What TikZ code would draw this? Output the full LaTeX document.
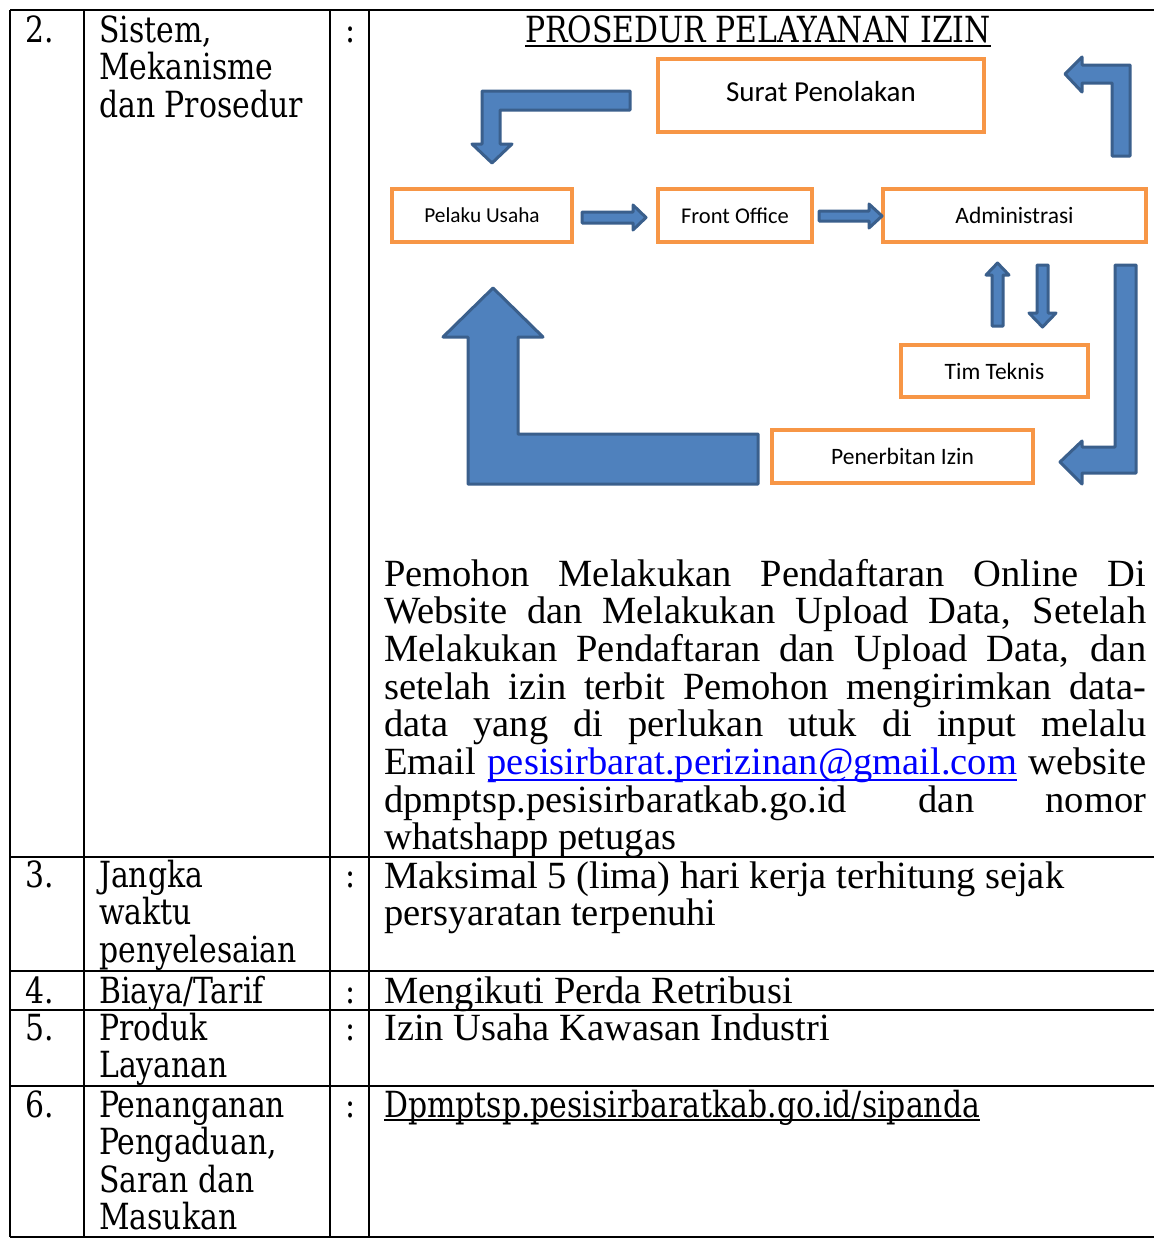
\documentclass[tikz,border=0pt]{standalone}
\usepackage{fontspec}
\newfontfamily\bkf[FakeStretch=0.83]{DejaVu Serif}
\newfontfamily\tmf{Liberation Serif}
\newfontfamily\cbf{Carlito}
\definecolor{boxor}{HTML}{F79646}
\definecolor{arrfill}{HTML}{4F81BD}
\definecolor{arrline}{HTML}{3A5F8C}
\definecolor{linkblue}{HTML}{0000FF}
\newcommand\ulx[2][4pt]{\setbox0\hbox{#2}\rlap{\rule[-#1]{\wd0}{1.6pt}}\box0}
\tikzset{
  tbl/.style={line width=2.2pt, black},
  bk/.style={anchor=base west, inner sep=0pt, font=\bkf\fontsize{36}{37.5}\selectfont},
  tm/.style={anchor=base west, inner sep=0pt, font=\tmf\fontsize{38.5}{37.7}\selectfont},
  obox/.style={draw=boxor, line width=4pt, inner sep=0pt, fill=white,
    font=\cbf\fontsize{23.5}{27}\selectfont},
  blk/.style={fill=arrfill, draw=arrline, line width=3pt, line join=round}
}
\begin{document}
\begin{tikzpicture}[x=1pt,y=-1pt]
\fill[white] (0,0) rectangle (1154,1240);
\useasboundingbox (0,0) rectangle (1154,1240);
\lineskiplimit=-20pt
% table grid
\draw[tbl] (10,10) -- (1154,10);
\draw[tbl] (10,857) -- (1154,857);
\draw[tbl] (10,971) -- (1154,971);
\draw[tbl] (10,1010) -- (1154,1010);
\draw[tbl] (10,1086) -- (1154,1086);
\draw[tbl] (10,1237) -- (1154,1237);
\draw[tbl] (10,10) -- (10,1237);
\draw[tbl] (84,10) -- (84,1237);
\draw[tbl] (330,10) -- (330,1237);
\draw[tbl] (369,10) -- (369,1237);

% row 2
\node[bk] (n2) at (25,42) {2.};
\node[bk] (l2) at (99,42) {\parbox[t]{230pt}{Sistem,\\Mekanisme\\dan Prosedur}};
\node[bk] (c2) at (345,42) {:};
\node[bk, anchor=base] (title) at (758,42) {\ulx[5pt]{PROSEDUR PELAYANAN IZIN}};

% diagram boxes
\node[obox, minimum width=326pt, minimum height=73pt] (sp) at (821,95.5) {\fontsize{29}{32}\selectfont\raisebox{8pt}{Surat Penolakan}};
\node[obox, minimum width=180pt, minimum height=53pt, font=\cbf\fontsize{21.3}{24}\selectfont] (pu) at (482,215.5) {Pelaku Usaha};
\node[obox, minimum width=154pt, minimum height=53pt, font=\cbf\fontsize{22.5}{26}\selectfont] (fo) at (735,215.5) {Front Office};
\node[obox, minimum width=263pt, minimum height=53pt] (ad) at (1014.5,215.5) {Administrasi};
\node[obox, minimum width=187pt, minimum height=52pt] (tt) at (994.5,371) {Tim Teknis};
\node[obox, minimum width=261pt, minimum height=53pt] (pi) at (902.5,456.5) {Penerbitan Izin};

% block arrows
\draw[blk] (630,91) -- (630,110) -- (500,110) -- (500,144) -- (512,144) -- (492,163)
  -- (472,144) -- (482,144) -- (482,91) -- cycle;
\draw[blk] (1112,156) -- (1112,83) -- (1082,83) -- (1082,92) -- (1065,74) -- (1082,57)
  -- (1082,65) -- (1130,65) -- (1130,156) -- cycle;
\draw[blk] (582,212) -- (633,212) -- (633,205) -- (646,217.5) -- (633,230) -- (633,223)
  -- (582,223) -- cycle;
\draw[blk] (819,211) -- (869,211) -- (869,204) -- (882,216) -- (869,228) -- (869,221)
  -- (819,221) -- cycle;
\draw[blk] (992,326) -- (992,275) -- (986,275) -- (997.5,263) -- (1009,275) -- (1003,275)
  -- (1003,326) -- cycle;
\draw[blk] (1037,265) -- (1048,265) -- (1048,313) -- (1056,313) -- (1042.5,327) -- (1029,313)
  -- (1037,313) -- cycle;
\draw[blk] (1115,265) -- (1136,265) -- (1136,473) -- (1082,473) -- (1082,484) -- (1060,462)
  -- (1082,441) -- (1082,447) -- (1115,447) -- cycle;
\draw[blk] (758,434) -- (758,484) -- (468,484) -- (468,337) -- (443,337) -- (493,288)
  -- (543,337) -- (518,337) -- (518,434) -- cycle;

% paragraph
\node[tm] (para) at (384,586) {\parbox[t]{762pt}{%
\noindent\makebox[\linewidth][s]{Pemohon Melakukan Pendaftaran Online Di}\par
\noindent\makebox[\linewidth][s]{Website dan Melakukan Upload Data, Setelah}\par
\noindent\makebox[\linewidth][s]{Melakukan Pendaftaran dan Upload Data, dan}\par
\noindent\makebox[\linewidth][s]{setelah izin terbit Pemohon mengirimkan data-}\par
\noindent\makebox[\linewidth][s]{data yang di perlukan utuk di input melalu}\par
\noindent\makebox[\linewidth][s]{Email {\color{linkblue}\ulx[6pt]{pesisirbarat.perizinan@gmail.com}} website}\par
\noindent\makebox[\linewidth][s]{dpmptsp.pesisirbaratkab.go.id dan nomor}\par
\noindent whatshapp petugas}};

% row 3
\node[bk] (n3) at (25,887) {3.};
\node[bk] (l3) at (99,887) {\parbox[t]{230pt}{Jangka\\waktu\\penyelesaian}};
\node[bk] (c3) at (345,887) {:};
\node[tm] (v3) at (384,888) {\parbox[t]{762pt}{Maksimal 5 (lima) hari kerja terhitung sejak\\persyaratan terpenuhi}};

% row 4
\node[bk] (n4) at (25,1003) {4.};
\node[bk] (l4) at (99,1003) {Biaya/Tarif};
\node[bk] (c4) at (345,1003) {:};
\node[tm] (v4) at (384,1003) {Mengikuti Perda Retribusi};

% row 5
\node[bk] (n5) at (25,1040) {5.};
\node[bk] (l5) at (99,1040) {\parbox[t]{230pt}{Produk\\Layanan}};
\node[bk] (c5) at (345,1040) {:};
\node[tm] (v5) at (384,1040) {Izin Usaha Kawasan Industri};

% row 6
\node[bk] (n6) at (25,1117) {6.};
\node[bk] (l6) at (99,1117) {\parbox[t]{230pt}{Penanganan\\Pengaduan,\\Saran dan\\Masukan}};
\node[bk] (c6) at (345,1117) {:};
\node[bk] (v6) at (384,1117) {\ulx[4pt]{Dpmptsp.pesisirbaratkab.go.id/sipanda}};
\end{tikzpicture}
\end{document}
